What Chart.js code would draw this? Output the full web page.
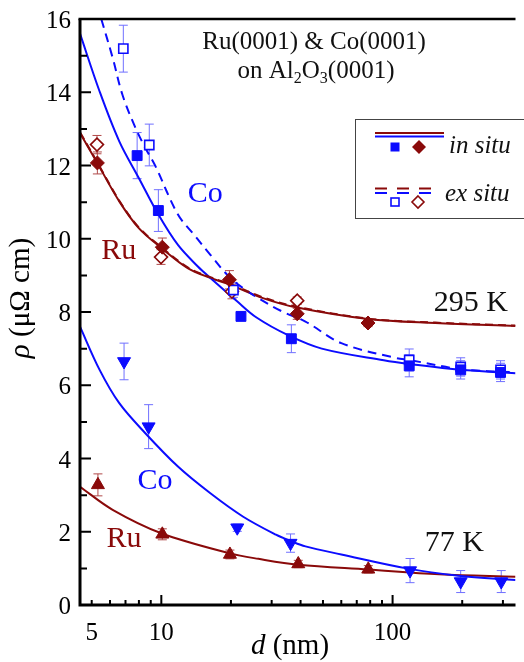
<!DOCTYPE html>
<html lang="en">
<head>
<meta charset="UTF-8" />
<title>Ru and Co resistivity vs thickness</title>
<script src="https://cdn.jsdelivr.net/npm/chart.js"></script>
<style>
  html, body { margin: 0; padding: 0; background: #fff; }
  canvas { display: block; }
</style>
</head>
<body>
<canvas id="chart" width="524" height="662"></canvas>
<script>
  // ---- measured points, 295 K ----
  const coInSituD   = [7.86, 9.71, 22.1, 36.5, 118, 197, 293];
  const coInSituRho = [12.27, 10.77, 7.88, 7.27, 6.53, 6.42, 6.35];
  const coInSituErr = [0.63, 0.57, 0, 0.38, 0.3, 0.25, 0.25];

  const coExSituD   = [6.85, 8.87, 20.5, 118, 197, 293];
  const coExSituRho = [15.19, 12.56, 8.6, 6.69, 6.5, 6.42];
  const coExSituErr = [0.64, 0.57, 0.2, 0.3, 0.25, 0.25];

  const ruInSituD   = [5.29, 10.1, 19.7, 38.7, 78.3];
  const ruInSituRho = [12.07, 9.77, 8.88, 7.95, 7.70];
  const ruInSituErr = [0.3, 0.25, 0.25, 0.15, 0.1];

  const ruExSituD   = [5.27, 9.97, 20.2, 38.7];
  const ruExSituRho = [12.57, 9.50, 8.56, 8.31];
  const ruExSituErr = [0.25, 0.2, 0.2, 0.1];

  // ---- measured points, 77 K ----
  const co77D   = [6.9, 8.81, 21.3, 36.2, 119, 197, 295];
  const co77Rho = [6.65, 4.87, 2.11, 1.69, 0.94, 0.64, 0.64];
  const co77Err = [0.5, 0.6, 0.1, 0.25, 0.33, 0.3, 0.3];

  const ru77D   = [5.32, 10.1, 19.8, 39.1, 78.5];
  const ru77Rho = [3.28, 1.93, 1.38, 1.12, 0.975];
  const ru77Err = [0.3, 0.15, 0.12, 0.1, 0.1];

  // ---- fitted curves ----
  const coFitD   = [4.45, 5.41, 6.58, 7.99, 9.71, 11.8, 14.35, 16.3, 21.2, 25.8, 35.5, 49.4, 91.6, 118, 197, 340];
  const coFitRho = [15.6, 14.02, 12.66, 11.66, 10.66, 9.83, 9.25, 8.93, 8.3, 7.85, 7.36, 7.0, 6.68, 6.58, 6.42, 6.33];

  const coExFitD   = [5.5, 6.16, 6.79, 7.74, 8.53, 9.4, 11.8, 13.9, 16.3, 19.9, 24.9, 33.4, 42, 60, 104, 118, 197, 340];
  const coExFitRho = [16.0, 14.94, 13.93, 13.02, 12.48, 12.0, 10.66, 10.1, 9.56, 8.93, 8.47, 8.01, 7.74, 7.15, 6.74, 6.69, 6.44, 6.35];

  const ruFitD   = [4.45, 5.24, 6.58, 7.99, 10.0, 13.0, 16.3, 19.9, 27.5, 38.1, 78.3, 153, 340];
  const ruFitRho = [12.89, 12.11, 11.02, 10.29, 9.75, 9.2, 8.93, 8.74, 8.38, 8.13, 7.81, 7.70, 7.62];

  const ruExFitD   = [4.45, 5.24, 6.58, 7.99, 10.0, 13.0, 16.3, 19.9, 27.5, 38.1, 78.3, 153, 340];
  const ruExFitRho = [12.91, 12.13, 11.04, 10.31, 9.77, 9.22, 8.95, 8.76, 8.4, 8.15, 7.82, 7.71, 7.63];

  const co77FitD   = [4.45, 5.41, 6.58, 8.53, 11.8, 16.3, 22.6, 31.3, 36.2, 42, 60, 115, 193, 340];
  const co77FitRho = [7.6, 6.42, 5.51, 4.69, 3.78, 3.05, 2.41, 1.92, 1.75, 1.6, 1.38, 1.0, 0.80, 0.68];

  const ru77FitD   = [4.45, 6.16, 10.0, 19.8, 26.3, 39.1, 78.5, 159, 340];
  const ru77FitRho = [3.23, 2.6, 1.96, 1.41, 1.26, 1.1, 0.97, 0.84, 0.77];

  // ---- axes ----
  const yMajorTicks = [0, 2, 4, 6, 8, 10, 12, 14, 16];
  const yMinorTicks = [1, 3, 5, 7, 9, 11, 13, 15];
  const xMajorTicks = [10, 100];
  const xMinorTicks = [5, 6, 7, 8, 9, 20, 30, 40, 50, 60, 70, 80, 90, 200, 300];
  const xLabelTicks = [5, 10, 100];

  const BLUE = '#0c0cff';
  const RED = '#8a0a0a';
  const BLUE_ERR = '#7070ff';
  const RED_ERR = '#b04848';
  const SERIF = '"Liberation Serif"';

  const pts = (d, r) => d.map((x, i) => ({ x, y: r[i] }));

  function markers(d, r, err, style, color, filled, radius, rotation) {
    return {
      data: pts(d, r),
      errors: err,
      errorColor: color === BLUE ? BLUE_ERR : RED_ERR,
      showLine: false,
      pointStyle: style,
      pointRotation: rotation || 0,
      pointRadius: radius,
      pointBackgroundColor: filled ? color : '#fff',
      pointBorderColor: color,
      pointBorderWidth: filled ? 1 : 1.6
    };
  }

  function curve(d, r, color, dash) {
    return {
      data: pts(d, r),
      borderColor: color,
      borderWidth: 2,
      borderDash: dash || [],
      pointRadius: 0,
      fill: false,
      tension: 0.35
    };
  }

  const datasets = [
    markers(coInSituD, coInSituRho, coInSituErr, 'rect', BLUE, true, 7),
    markers(ruInSituD, ruInSituRho, ruInSituErr, 'rectRot', RED, true, 7),
    markers(coExSituD, coExSituRho, coExSituErr, 'rect', BLUE, false, 6.5),
    markers(ruExSituD, ruExSituRho, ruExSituErr, 'rectRot', RED, false, 6.5),
    markers(co77D, co77Rho, co77Err, 'triangle', BLUE, true, 7.5, 180),
    markers(ru77D, ru77Rho, ru77Err, 'triangle', RED, true, 7.5),
    curve(ruExFitD, ruExFitRho, RED, [8, 5]),
    curve(coExFitD, coExFitRho, BLUE, [9, 6]),
    curve(coFitD, coFitRho, BLUE),
    curve(ruFitD, ruFitRho, RED),
    curve(co77FitD, co77FitRho, BLUE),
    curve(ru77FitD, ru77FitRho, RED)
  ];

  // draws a list of text runs one after the other
  function drawRuns(ctx, runs, x, y, align) {
    let total = 0;
    runs.forEach(r => { ctx.font = r.font; total += ctx.measureText(r.t).width; });
    let cx = align === 'center' ? x - total / 2 : x;
    runs.forEach(r => {
      ctx.font = r.font;
      ctx.fillText(r.t, cx, y + (r.dy || 0));
      cx += ctx.measureText(r.t).width;
    });
  }

  const errorBars = {
    id: 'errorBars',
    beforeDatasetsDraw(chart) {
      const { ctx, scales: { x, y } } = chart;
      chart.data.datasets.forEach(ds => {
        if (!ds.errors) return;
        ctx.save();
        ctx.strokeStyle = ds.errorColor;
        ctx.lineWidth = 1;
        ds.data.forEach((p, i) => {
          const e = ds.errors[i];
          if (!e) return;
          const px = x.getPixelForValue(p.x);
          const top = y.getPixelForValue(p.y + e);
          const bot = y.getPixelForValue(p.y - e);
          ctx.beginPath();
          ctx.moveTo(px, top); ctx.lineTo(px, bot);
          ctx.moveTo(px - 4.5, top); ctx.lineTo(px + 4.5, top);
          ctx.moveTo(px - 4.5, bot); ctx.lineTo(px + 4.5, bot);
          ctx.stroke();
        });
        ctx.restore();
      });
    }
  };

  const frame = {
    id: 'frame',
    afterDraw(chart) {
      const { ctx, chartArea: a, scales: { x, y } } = chart;
      ctx.save();
      ctx.strokeStyle = '#000';
      ctx.fillStyle = '#000';

      // inward ticks
      ctx.lineWidth = 2;
      ctx.beginPath();
      yMajorTicks.forEach(v => { const py = y.getPixelForValue(v); ctx.moveTo(a.left, py); ctx.lineTo(a.left + 11, py); });
      yMinorTicks.forEach(v => { const py = y.getPixelForValue(v); ctx.moveTo(a.left, py); ctx.lineTo(a.left + 7, py); });
      xMajorTicks.forEach(v => { const px = x.getPixelForValue(v); ctx.moveTo(px, a.bottom); ctx.lineTo(px, a.bottom - 10); });
      xMinorTicks.forEach(v => { const px = x.getPixelForValue(v); ctx.moveTo(px, a.bottom); ctx.lineTo(px, a.bottom - 5); });
      ctx.stroke();

      // axis lines
      ctx.lineWidth = 3;
      ctx.beginPath();
      ctx.moveTo(a.left, a.top); ctx.lineTo(a.left, a.bottom);
      ctx.lineTo(a.right, a.bottom);
      ctx.stroke();
      ctx.lineWidth = 2.5;
      ctx.beginPath();
      ctx.moveTo(a.left - 1.5, a.top); ctx.lineTo(a.right, a.top);
      ctx.stroke();

      // tick labels
      ctx.font = '25px ' + SERIF;
      ctx.textAlign = 'right';
      ctx.textBaseline = 'alphabetic';
      yMajorTicks.forEach(v => ctx.fillText(String(v), a.left - 9, y.getPixelForValue(v) + 9));
      ctx.textAlign = 'center';
      xLabelTicks.forEach(v => ctx.fillText(String(v), x.getPixelForValue(v), a.bottom + 35));

      // axis titles
      ctx.textAlign = 'left';
      drawRuns(ctx, [
        { t: 'd', font: 'italic 29px ' + SERIF },
        { t: ' (nm)', font: '29px ' + SERIF }
      ], 290, 654, 'center');

      ctx.save();
      ctx.translate(29, 298);
      ctx.rotate(-Math.PI / 2);
      drawRuns(ctx, [
        { t: 'ρ', font: 'italic 29px ' + SERIF },
        { t: ' (μΩ cm)', font: '29px ' + SERIF }
      ], 0, 0, 'center');
      ctx.restore();

      // title text
      ctx.fillStyle = '#111';
      ctx.font = '25px ' + SERIF;
      ctx.textAlign = 'center';
      ctx.fillText('Ru(0001) & Co(0001)', 314, 49);
      ctx.textAlign = 'left';
      drawRuns(ctx, [
        { t: 'on Al', font: '25px ' + SERIF },
        { t: '2', font: '16px ' + SERIF, dy: 5 },
        { t: 'O', font: '25px ' + SERIF },
        { t: '3', font: '16px ' + SERIF, dy: 5 },
        { t: '(0001)', font: '25px ' + SERIF }
      ], 316, 78, 'center');

      // curve labels
      const labels = [
        { t: 'Co', d: 15.5, r: 11.25, c: BLUE },
        { t: 'Ru', d: 6.54, r: 9.68, c: RED },
        { t: '295 K', d: 218, r: 8.28, c: '#111' },
        { t: 'Co', d: 9.39, r: 3.4, c: BLUE },
        { t: 'Ru', d: 6.9, r: 1.82, c: RED },
        { t: '77 K', d: 185, r: 1.72, c: '#111' }
      ];
      ctx.font = '30px ' + SERIF;
      ctx.textAlign = 'center';
      ctx.textBaseline = 'middle';
      labels.forEach(l => {
        ctx.fillStyle = l.c;
        ctx.fillText(l.t, x.getPixelForValue(l.d), y.getPixelForValue(l.r) + 1);
      });

      // legend box
      ctx.textBaseline = 'alphabetic';
      ctx.strokeStyle = '#444';
      ctx.lineWidth = 1;
      ctx.strokeRect(355.5, 119.5, 190, 99);

      ctx.lineWidth = 2.2;
      ctx.strokeStyle = RED;
      ctx.beginPath(); ctx.moveTo(375, 133); ctx.lineTo(444, 133); ctx.stroke();
      ctx.strokeStyle = BLUE;
      ctx.beginPath(); ctx.moveTo(375, 136.5); ctx.lineTo(444, 136.5); ctx.stroke();
      ctx.setLineDash([12, 10]);
      ctx.strokeStyle = RED;
      ctx.beginPath(); ctx.moveTo(375, 188.5); ctx.lineTo(436, 188.5); ctx.stroke();
      ctx.strokeStyle = BLUE;
      ctx.beginPath(); ctx.moveTo(375, 193); ctx.lineTo(436, 193); ctx.stroke();
      ctx.setLineDash([]);

      // legend markers
      ctx.fillStyle = BLUE;
      ctx.fillRect(390.5, 142.5, 9, 9);
      ctx.fillStyle = RED;
      ctx.beginPath();
      ctx.moveTo(419, 140); ctx.lineTo(426, 147); ctx.lineTo(419, 154); ctx.lineTo(412, 147);
      ctx.closePath(); ctx.fill();
      ctx.lineWidth = 1.6;
      ctx.strokeStyle = BLUE;
      ctx.strokeRect(391, 198, 8, 8);
      ctx.strokeStyle = RED;
      ctx.beginPath();
      ctx.moveTo(418, 196); ctx.lineTo(424, 202); ctx.lineTo(418, 208); ctx.lineTo(412, 202);
      ctx.closePath(); ctx.stroke();

      ctx.fillStyle = '#111';
      ctx.font = 'italic 25px ' + SERIF;
      ctx.textAlign = 'left';
      ctx.fillText('in situ', 449, 153);
      ctx.fillText('ex situ', 445, 201);

      ctx.restore();
    }
  };

  new Chart(document.getElementById('chart'), {
    type: 'line',
    data: { datasets },
    options: {
      responsive: false,
      animation: false,
      events: [],
      layout: { padding: { left: 80, right: 0, top: 19, bottom: 57 } },
      plugins: { legend: { display: false }, tooltip: { enabled: false } },
      scales: {
        x: { type: 'logarithmic', min: 4.45, max: 340, display: false },
        y: { type: 'linear', min: 0, max: 16, display: false }
      }
    },
    plugins: [errorBars, frame]
  });
</script>
</body>
</html>
